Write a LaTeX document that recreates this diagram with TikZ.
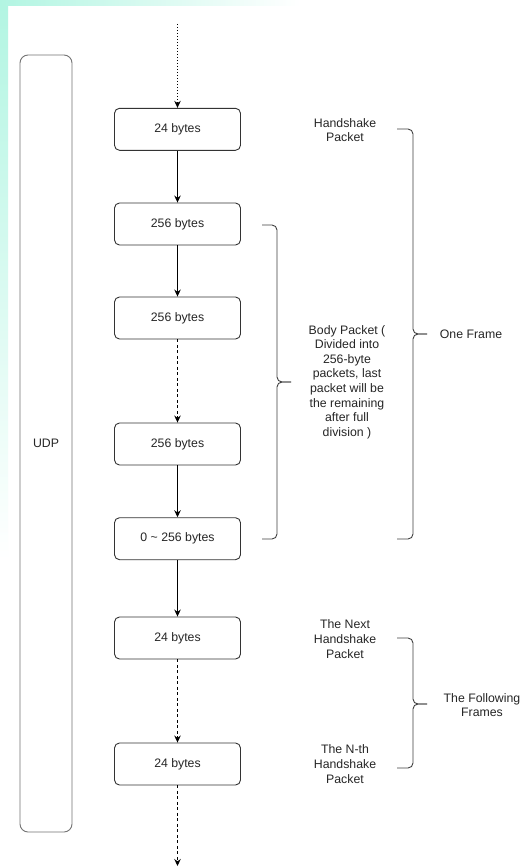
\documentclass[tikz,border=0pt]{standalone}
\usepackage{fontspec}
\setmainfont{Liberation Sans}
\usetikzlibrary{arrows.meta}
\usetikzlibrary{positioning}

\definecolor{mint}{RGB}{178,245,226}

\begin{document}
\begin{tikzpicture}[x=1pt, y=-1pt,
  font=\fontsize{12.3}{14.6}\selectfont, text=black!85,
  packet/.style={draw=black!80, rounded corners=5pt, line width=0.9pt,
    minimum width=126pt, minimum height=42pt},
  flow/.style={-{Stealth[length=7pt, width=6.5pt]}, line width=0.9pt},
  gap/.style={flow, dash pattern=on 3pt off 2.5pt},
  brace/.style={draw=black!75, rounded corners=5pt, line width=0.9pt},
  note/.style={align=center}]

	% page and the mint edge
	\useasboundingbox (0,0) rectangle (522,867);
	\fill[white] (0,0) rectangle (522,867);
	\shade[top color=mint, bottom color=white] (0,0) rectangle (8,560);
	\shade[left color=mint, right color=white] (0,0) rectangle (300,6);

	% the UDP frame on the left
	\node[draw=black!55, rounded corners=8pt, line width=0.9pt,
	  minimum width=52pt, minimum height=777pt] (udp) at (46,443.5) {UDP};

	% packets
	\foreach \n/\y/\t in {1/129.3/24 bytes, 2/224/256 bytes, 3/318/256 bytes,
	  4/444/256 bytes, 5/538.7/0 \textasciitilde{} 256 bytes,
	  6/638/24 bytes, 7/764/24 bytes} {
		\node[packet] (p\n) at (177.5,\y) {\t};
	}

	\coordinate (start) at (177.5,24);
	\coordinate (end) at (177.5,866);

	% connectors
	\draw[flow, dash pattern=on 1.3pt off 1.7pt] (start) -- (p1);
	\draw[flow] (p1) -- (p2);
	\draw[flow] (p2) -- (p3);
	\draw[gap] (p3) -- (p4);
	\draw[flow] (p4) -- (p5);
	\draw[flow] (p5) -- (p6);
	\draw[gap] (p6) -- (p7);
	\draw[gap] (p7) -- (end);

	% labels
	\node[note] (hs) at (345,130) {Handshake\\Packet};
	\node[note] (body) at (347,382) {Body Packet (\\Divided into\\256-byte\\packets, last\\packet will be\\the remaining\\after full\\division )};
	\node[note] (next) at (345,639) {The Next\\Handshake\\Packet};
	\node[note] (nth) at (345,764) {The N-th\\Handshake\\Packet};
	\node (one) at (471,334) {One Frame};
	\node[note] (follow) at (482,705) {The Following\\Frames};

	% braces
	\draw[brace] (262,225) -- (277,225) -- (277,382) -- (291,382);
	\draw[brace] (291,382) -- (277,382) -- (277,539) -- (262,539);
	\draw[brace] (397,129) -- (413,129) -- (413,334) -- (427,334);
	\draw[brace] (427,334) -- (413,334) -- (413,539) -- (397,539);
	\draw[brace] (397,638) -- (413,638) -- (413,704) -- (427,704);
	\draw[brace] (427,704) -- (413,704) -- (413,768) -- (397,768);
\end{tikzpicture}
\end{document}
